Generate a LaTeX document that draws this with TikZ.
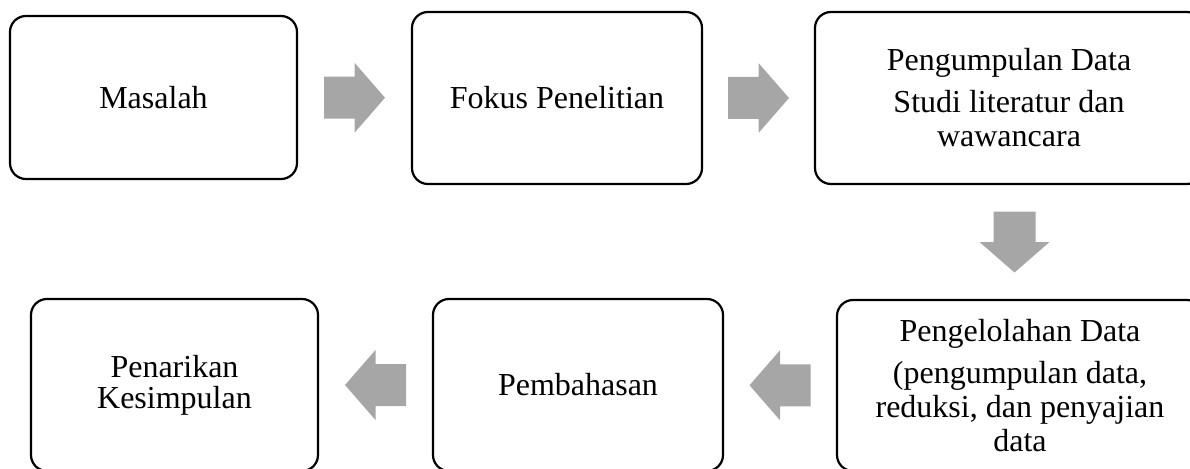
\documentclass[tikz,border=0pt]{standalone}
\usepackage{fontspec}
\setmainfont{Liberation Serif}
\usetikzlibrary{calc}
\definecolor{arrowgray}{RGB}{166,166,166}
\tikzset{
  stepbox/.style={draw=black, line width=2.2pt, rounded corners=16pt, fill=white,
    align=center, inner sep=0pt, font=\fontsize{32}{34}\selectfont},
  barrow/.pic={\fill[arrowgray] (-30.5,-21) -- (0,-21) -- (0,-35) -- (30.5,0) -- (0,35) -- (0,21) -- (-30.5,21) -- cycle;}
}
\begin{document}
\begin{tikzpicture}[x=1pt,y=-1pt]
\useasboundingbox (0,0) rectangle (1190,468);
\clip (0,0) rectangle (1190,468);
% top row
\node[stepbox, minimum width=287pt, minimum height=163pt] (b1) at (153.5,97.5) {Masalah};
\node[stepbox, minimum width=290pt, minimum height=172pt] (b2) at (557,98) {Fokus Penelitian};
\node[stepbox, minimum width=388pt, minimum height=172pt] (b3) at (1009,98) {Pengumpulan Data\\[8pt]Studi literatur dan\\wawancara};
% bottom row
\node[stepbox, minimum width=366pt, minimum height=171pt] (b4) at (1020,385.5) {Pengelolahan Data\\[8pt](pengumpulan data,\\reduksi, dan penyajian\\data};
\node[stepbox, minimum width=290pt, minimum height=172pt] (b5) at (578,385) {Pembahasan};
\node[stepbox, minimum width=287pt, minimum height=172pt] (b6) at (174.5,385) {Penarikan\\[-3pt]Kesimpulan};
% block arrows
\pic at ($(b1.east)!0.5!(b2.west)$) {barrow};
\pic at ($(b2.east)!0.5!(b3.west)$) {barrow};
\pic[rotate=-90] at ($(b3.south)!0.5!(b4.north)$) {barrow};
\pic[rotate=180] at ($(b4.west)!0.5!(b5.east)$) {barrow};
\pic[rotate=180] at ($(b5.west)!0.5!(b6.east)$) {barrow};
\end{tikzpicture}
\end{document}
